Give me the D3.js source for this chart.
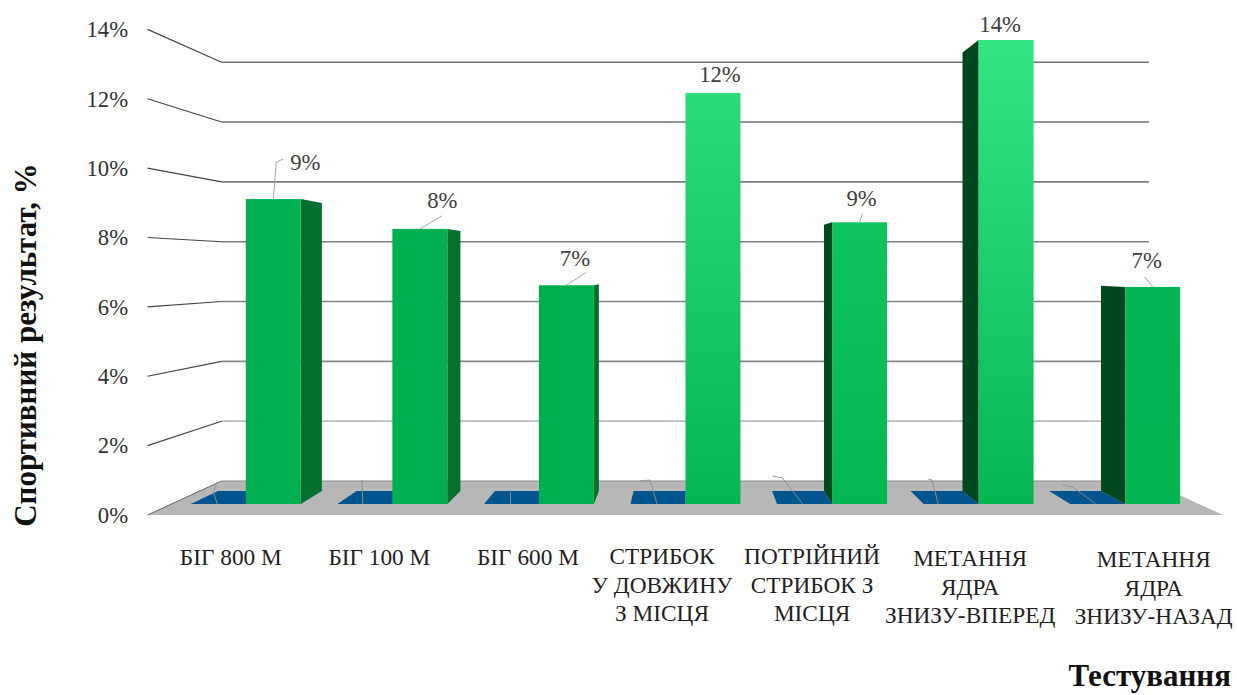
<!DOCTYPE html>
<html lang="uk">
<head>
<meta charset="utf-8">
<script src="https://cdn.jsdelivr.net/npm/d3@7/dist/d3.min.js"></script>
<style>
  html, body { margin: 0; background: #fff; }
  svg { display: block; }
  text { font-family: "Liberation Serif", serif; }
</style>
</head>
<body>
<svg id="chart" width="1237" height="695"></svg>
<script>
// Test names, one array of text lines per column group
const categories = ["t1", "t2", "t3", "t4", "t5", "t6", "t7"];
const categoryLines = [
  ["БІГ 800 М"],
  ["БІГ 100 М"],
  ["БІГ 600 М"],
  ["СТРИБОК", "У ДОВЖИНУ", "З МІСЦЯ"],
  ["ПОТРІЙНИЙ", "СТРИБОК З", "МІСЦЯ"],
  ["МЕТАННЯ", "ЯДРА", "ЗНИЗУ-ВПЕРЕД"],
  ["МЕТАННЯ", "ЯДРА", "ЗНИЗУ-НАЗАД"]
];
// Sports result, %, for the two series
const resultValues = [9.2, 8.3, 6.6, 12.4, 8.5, 14.0, 6.55];
const baselineValues = [0, 0, 0, 0, 0, 0, 0];
const axisTicks = [0, 2, 4, 6, 8, 10, 12, 14];
const yTitle = "Спортивний результат, %";
const xTitle = "Тестування";

// Label placement relative to the bar's top centre
const labelOffsets = [[32, -37], [22.5, -28], [8.5, -27], [7, -19], [2, -24], [-6, -16], [-6, -26]];
const leaderPaths = [
  [[0, 0], [3, -37], [10, -40]],
  [[0, 0], [22, -13]],
  [[0, 0], [20, -13]],
  [],
  [[0, 0], [3, -9]],
  [],
  [[0, 0], [-8, -10]]
];
// Leaders of the zero-height series, relative to the front-edge centre
const baseLeaderPaths = [
  [[-1, 0], [-5, -12], [-2, -19]],
  [[-2, 0], [-3, -24]],
  [[-1, 0], [-1, -12]],
  [[-1, 0], [-8, -24], [-18, -23]],
  [[-2, 0], [-22, -26], [-32, -28]],
  [[-13, 0], [-19, -24], [-23, -25]],
  [[-2, 0], [-25, -17], [-35, -19]]
];
const categoryCentreShift = [-15, -13, -11, -23.5, -20, -8.5, 28.5];
const categoryTopRow = [557, 557, 557, 556, 556, 558, 559];

const svg = d3.select("#chart");

// Perspective: every depth plane is a scaling about the vanishing point
const vanish = { x: 685, y: 268 };
const depth = { axis: 1.0466, bar: 1, barBack: 0.945, wall: 0.9025 };
const project = (x, y, k) => [vanish.x + (x - vanish.x) * k, vanish.y + (y - vanish.y) * k];

const y = d3.scaleLinear().domain([0, 14]).range([504, 40]);
const plotX = [171.5, 1199];
const x0 = d3.scaleBand().domain(categories).range([172.5, 1198.5]).paddingInner(0.25).paddingOuter(0.125);
const x1 = d3.scaleBand().domain(["baseline", "result"]).range([0, x0.bandwidth()]);
const yAxisScale = d3.scaleLinear().domain([0, 14])
  .range([project(0, y(0), depth.axis)[1], project(0, y(14), depth.axis)[1]]);

const poly = pts => pts.map(p => p.join(",")).join(" ");
const defs = svg.append("defs");

// Wall gridlines and the short connectors running out to the tick labels
const gridShade = d3.scaleLinear().domain([2, 4, 14]).range(["#bdbdbd", "#888888", "#707070"]);
const gridTicks = axisTicks.filter(t => t > 0);
svg.append("g").selectAll("line").data(gridTicks).join("line")
  .attr("x1", d => project(plotX[0], y(d), depth.wall)[0])
  .attr("x2", d => project(plotX[1], y(d), depth.wall)[0])
  .attr("y1", d => project(0, y(d), depth.wall)[1])
  .attr("y2", d => project(0, y(d), depth.wall)[1])
  .attr("stroke", d => gridShade(d)).attr("stroke-width", 1.6);
svg.append("g").selectAll("line").data(gridTicks).join("line")
  .attr("x1", project(plotX[0], 0, depth.wall)[0])
  .attr("x2", project(plotX[0], 0, depth.axis)[0])
  .attr("y1", d => project(0, y(d), depth.wall)[1])
  .attr("y2", d => project(0, y(d), depth.axis)[1])
  .attr("stroke", "#444").attr("stroke-width", 1.1);

// Floor
svg.append("polygon")
  .attr("points", poly([
    project(plotX[0], y(0), depth.wall), project(plotX[1], y(0), depth.wall),
    project(plotX[1], y(0), depth.axis), project(plotX[0], y(0), depth.axis)
  ]))
  .attr("fill", "#b7b7b7");
svg.append("line")
  .attr("x1", project(plotX[0], 0, depth.wall)[0]).attr("x2", project(plotX[1], 0, depth.wall)[0])
  .attr("y1", project(0, y(0), depth.wall)[1]).attr("y2", project(0, y(0), depth.wall)[1])
  .attr("stroke", "#8c8c8c").attr("stroke-width", 1.2);
svg.append("line")
  .attr("x1", project(plotX[0], 0, depth.wall)[0]).attr("x2", project(plotX[0], 0, depth.axis)[0])
  .attr("y1", project(0, y(0), depth.wall)[1]).attr("y2", project(0, y(0), depth.axis)[1])
  .attr("stroke", "#666").attr("stroke-width", 1);

// Zero-height series: only the footprint on the floor shows
const baseLeft = (d, i) => x0(categories[i]) + x1("baseline");
svg.append("g").selectAll("polygon").data(baselineValues).join("polygon")
  .attr("points", (d, i) => {
    const l = baseLeft(d, i), r = l + x1.bandwidth(), yb = y(d);
    return poly([[l, yb], [r, yb], project(r, yb, depth.barBack), project(l, yb, depth.barBack)]);
  })
  .attr("fill", "#00558f");

// Leader lines
const leader = d3.line();
svg.append("g").selectAll("path").data(baselineValues).join("path")
  .attr("d", (d, i) => {
    const cx = baseLeft(d, i) + x1.bandwidth() / 2;
    return leader(baseLeaderPaths[i].map(([a, b]) => [cx + a, y(d) + b]));
  })
  .attr("fill", "none").attr("stroke", "#8f8f8f").attr("stroke-width", 0.9);

// Result bars: front face plus whichever side faces the vanishing point
const topColor = d3.scaleLinear().domain([6.55, 14]).range(["#04b653", "#34e682"]);
const bars = svg.append("g").selectAll("g").data(resultValues).join("g");
bars.each(function (v, i) {
  const g = d3.select(this);
  const l = x0(categories[i]) + x1("result"), r = l + x1.bandwidth();
  const top = y(v), bottom = y(0);
  if (r <= vanish.x) {
    g.append("polygon")
      .attr("points", poly([[r, top], project(r, top, depth.barBack), project(r, bottom, depth.barBack), [r, bottom]]))
      .attr("fill", "#03702f");
  } else if (l >= vanish.x + 1) {
    g.append("polygon")
      .attr("points", poly([[l, top], project(l, top, depth.barBack), project(l, bottom, depth.barBack), [l, bottom]]))
      .attr("fill", "#03471f");
  }
  let fill = "#00b050";
  if (r > vanish.x) {
    const id = "bar-shade-" + i;
    const grad = defs.append("linearGradient").attr("id", id)
      .attr("gradientUnits", "userSpaceOnUse")
      .attr("x1", 0).attr("x2", 0).attr("y1", top).attr("y2", bottom);
    grad.append("stop").attr("offset", 0).attr("stop-color", topColor(v));
    grad.append("stop").attr("offset", 1).attr("stop-color", "#05b653");
    fill = `url(#${id})`;
  }
  g.append("rect").attr("x", l).attr("y", top).attr("width", r - l).attr("height", bottom - top).attr("fill", fill);
  if (leaderPaths[i].length) {
    const cx = (l + r) / 2;
    g.append("path")
      .attr("d", leader(leaderPaths[i].map(([a, b]) => [cx + a, top + b])))
      .attr("fill", "none").attr("stroke", "#a6a6a6").attr("stroke-width", 1);
  }
  g.append("text")
    .attr("x", (l + r) / 2 + labelOffsets[i][0])
    .attr("y", top + labelOffsets[i][1])
    .attr("text-anchor", "middle").attr("dominant-baseline", "central")
    .attr("font-size", 22.7).attr("fill", "#404040")
    .text(d3.format(".0f")(v) + "%");
});

// Value axis along the front edge
const axis = d3.axisLeft(yAxisScale).tickValues(axisTicks).tickSize(0).tickPadding(19.5)
  .tickFormat(d => d + "%");
const axisG = svg.append("g").attr("transform", `translate(${project(plotX[0], 0, depth.axis)[0]},0)`).call(axis);
axisG.select(".domain").remove();
axisG.selectAll("text").attr("font-size", 22.7).attr("fill", "#333")
  .style("font-family", '"Liberation Serif", serif');

// Category labels
const catG = svg.append("g").selectAll("text").data(categoryLines).join("text")
  .attr("text-anchor", "middle").attr("font-size", 23.3).attr("fill", "#1f1f1f");
catG.each(function (lines, i) {
  const cx = x0(categories[i]) + x0.bandwidth() / 2 + categoryCentreShift[i];
  d3.select(this).selectAll("tspan").data(lines).join("tspan")
    .attr("x", cx)
    .attr("y", (d, j) => categoryTopRow[i] + j * 28.5)
    .attr("dominant-baseline", "central")
    .text(d => d);
});

// Axis titles
svg.append("text")
  .attr("transform", "translate(25,345) rotate(-90)")
  .attr("text-anchor", "middle").attr("dominant-baseline", "central")
  .attr("font-size", 31).attr("font-weight", "bold").attr("fill", "#111")
  .text(yTitle);
svg.append("text")
  .attr("x", 1231).attr("y", 675)
  .attr("text-anchor", "end").attr("dominant-baseline", "central")
  .attr("font-size", 31).attr("font-weight", "bold").attr("fill", "#111")
  .text(xTitle);
</script>
</body>
</html>
